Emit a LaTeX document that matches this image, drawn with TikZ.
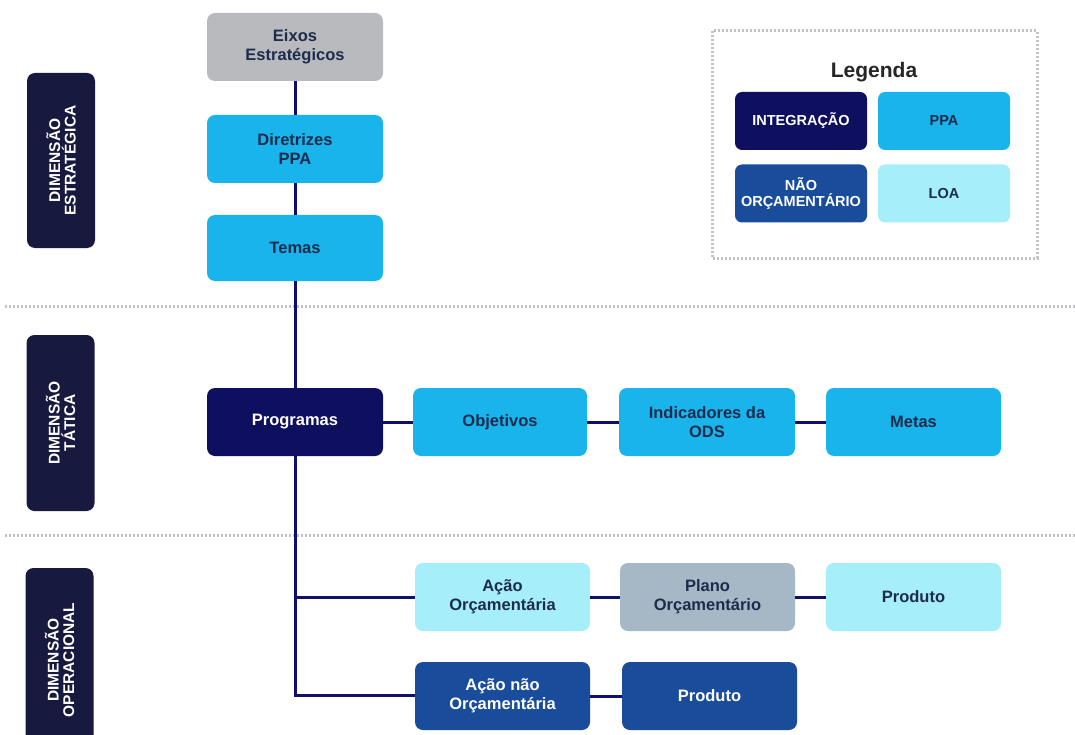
\documentclass[tikz,border=0pt]{standalone}
\usepackage{fontspec}
\setmainfont{Liberation Sans}
\definecolor{navy}{HTML}{0E0F5E}
\definecolor{side}{HTML}{17193F}
\definecolor{ppa}{HTML}{1AB4EC}
\definecolor{loa}{HTML}{A6EEFA}
\definecolor{grayb}{HTML}{B9BABE}
\definecolor{plano}{HTML}{A6B8C6}
\definecolor{naoorc}{HTML}{194C9B}
\definecolor{txt}{HTML}{1D2B4C}
\definecolor{dots}{HTML}{C2C2C6}
\definecolor{linec}{HTML}{10106A}
\begin{document}
\begin{tikzpicture}[x=1pt,y=-1pt,
  box/.style={rounded corners=8pt, minimum width=176pt, minimum height=68pt, align=center,
    font=\fontsize{16.5}{19}\selectfont\bfseries, text=txt, inner sep=2pt},
  ppabox/.style={box, fill=ppa},
  loabox/.style={box, fill=loa},
  intbox/.style={box, fill=navy, text=white},
  naobox/.style={box, fill=naoorc, text=white},
  sidebox/.style={rounded corners=8pt, fill=side, text=white, minimum height=68pt, align=center,
    font=\fontsize{15.5}{15.5}\selectfont\bfseries, rotate=90},
  legbox/.style={rounded corners=7pt, minimum width=132pt, minimum height=58pt, align=center,
    font=\fontsize{14.5}{15.5}\selectfont\bfseries, text=txt, inner sep=1pt},
  conn/.style={draw=linec, line width=3pt},
  sep/.style={draw=dots, line width=3pt, dash pattern=on 2pt off 2pt}
]
\useasboundingbox (0,0) rectangle (1075,735);
\fill[white] (0,0) rectangle (1075,735);

% separators
\draw[sep] (5,306) -- (1075,306);
\draw[sep] (5,535) -- (1075,535);

% legend
\draw[sep] (712,31) rectangle (1037,258);
\node[font=\fontsize{21}{23}\selectfont\bfseries, text=black!85] (legt) at (874,72) {Legenda};
\node[legbox, fill=navy, text=white] (lint) at (801,121) {INTEGRAÇÃO};
\node[legbox, fill=ppa] (lppa) at (944,121) {PPA};
\node[legbox, fill=naoorc, text=white] (lnao) at (801,193.5) {NÃO\\ORÇAMENTÁRIO};
\node[legbox, fill=loa] (lloa) at (944,193.5) {LOA};

% side labels
\node[sidebox, minimum width=175pt] (sest) at (61,160.5) {DIMENSÃO\\ESTRATÉGICA};
\node[sidebox, minimum width=176pt] (stat) at (60.5,423) {DIMENSÃO\\TÁTICA};
\node[sidebox, minimum width=184pt] (sope) at (59.5,660) {DIMENSÃO\\OPERACIONAL};

% main nodes
\node[box, fill=grayb] (eixos) at (295,47) {Eixos\\Estratégicos};
\node[ppabox] (dir) at (295,149) {Diretrizes\\PPA};
\node[ppabox, minimum height=66pt] (temas) at (295,248) {Temas};
\node[intbox] (prog) at (295,422) {Programas};
\node[ppabox, minimum width=174pt] (obj) at (500,422) {Objetivos};
\node[ppabox] (ind) at (707,422) {Indicadores da\\ODS};
\node[ppabox, minimum width=175pt] (metas) at (913.5,422) {Metas};
\node[loabox, minimum width=175pt] (acao) at (502.5,597) {Ação\\Orçamentária};
\node[box, fill=plano, minimum width=175pt] (plano) at (707.5,597) {Plano\\Orçamentário};
\node[loabox, minimum width=175pt] (prod) at (913.5,597) {Produto};
\node[naobox, minimum width=175pt] (acaonao) at (502.5,696) {Ação não\\Orçamentária};
\node[naobox, minimum width=175pt] (prod2) at (709.5,696) {Produto};

\coordinate (corner) at (295,695);

% connectors
\draw[conn] (eixos.south) -- (dir.north);
\draw[conn] (dir.south) -- (temas.north);
\draw[conn] (temas.south) -- (prog.north);
\draw[conn] (prog.east) -- (obj.west);
\draw[conn] (obj.east) -- (ind.west);
\draw[conn] (ind.east) -- (metas.west);
\draw[conn] (prog.south) -- (corner) -- (corner -| acaonao.west);
\draw[conn] (prog.south |- acao.west) -- (acao.west);
\draw[conn] (acao.east) -- (plano.west);
\draw[conn] (plano.east) -- (prod.west);
\draw[conn] (acaonao.east) -- (prod2.west);
\end{tikzpicture}
\end{document}
